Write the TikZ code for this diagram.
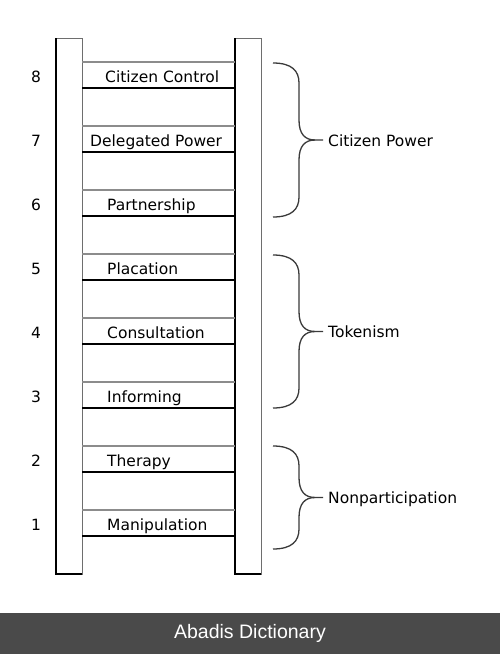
\documentclass[tikz,border=0pt]{standalone}
\usepackage{fontspec}
\setmainfont{DejaVu Sans}
\newfontfamily\bannerfont{Liberation Sans}
\usepackage{tikz}

\definecolor{railgray}{HTML}{6E6E6E}
\definecolor{runggray}{HTML}{8C8C8C}
\definecolor{bracegray}{HTML}{3A3A3A}
\definecolor{bannergray}{HTML}{4A4A4A}

\begin{document}
\begin{tikzpicture}[x=1pt, y=-1pt,
        rail/.style = {draw=railgray, fill=white, line width=1pt},
        railedge/.style = {draw=black, line width=1.7pt},
        rungtop/.style = {draw=runggray, line width=1.3pt},
        rungbot/.style = {draw=black, line width=1.8pt},
        lbl/.style = {font=\fontsize{15.5}{18}\selectfont, inner sep=0pt, anchor=base west},
        num/.style = {font=\fontsize{15.5}{18}\selectfont, inner sep=0pt, anchor=base},
        bracel/.style = {draw=bracegray, line width=1.3pt},
        grp/.style = {font=\fontsize{15.5}{18}\selectfont, inner sep=0pt, anchor=base west}]
        \useasboundingbox (0,0) rectangle (500,654);
        \fill[white] (0,0) rectangle (500,654);

        % rails
        \draw[rail] (56,38) rectangle (82,574);
        \draw[rail] (235,38) rectangle (261,574);
        \draw[railedge] (56,38) -- (56,574) -- (82,574);
        \draw[railedge] (235,38) -- (235,574) -- (261,574);

        % rungs, numbers and names
        \foreach \k/\lx/\name in {8/105/Citizen Control, 7/90/Delegated Power, 6/107/Partnership,
                5/107/Placation, 4/107/Consultation, 3/107/Informing,
                2/107/Therapy, 1/107/Manipulation} {
            \pgfmathsetmacro\yt{510-64*(\k-1)}
            \draw[rungtop] (82,\yt) -- (235,\yt);
            \draw[rungbot] (82,\yt+26) -- (235,\yt+26);
            \node[num] (n\k) at (36,\yt+20.5) {\k};
            \node[lbl] (r\k) at (\lx,\yt+20.5) {\name};
        }

        % braces
        \foreach \yt/\yb/\nm/\txt in {63/217/power/Citizen Power, 255/408/token/Tokenism,
                446/549/nonpart/Nonparticipation} {
            \pgfmathsetmacro\ym{(\yt+\yb)/2}
            \coordinate (tip\nm) at (323,\ym);
            \node[grp] (\nm) at (328,\ym+6) {\txt};
            \draw[bracel] (273,\yt) .. controls (292,\yt) and (299,\yt+8) .. (299,\yt+20)
                -- (299,\ym-20) .. controls (299,\ym-6) and (305,\ym) .. (315,\ym) -- (tip\nm);
            \draw[bracel] (273,\yb) .. controls (292,\yb) and (299,\yb-8) .. (299,\yb-20)
                -- (299,\ym+20) .. controls (299,\ym+6) and (305,\ym) .. (315,\ym);
        }

        % banner
        \fill[bannergray] (0,613) rectangle (500,654);
        \node[font=\bannerfont\fontsize{19.5}{22}\selectfont, text=white] (banner) at (250,633.5) {Abadis Dictionary};
\end{tikzpicture}
\end{document}
